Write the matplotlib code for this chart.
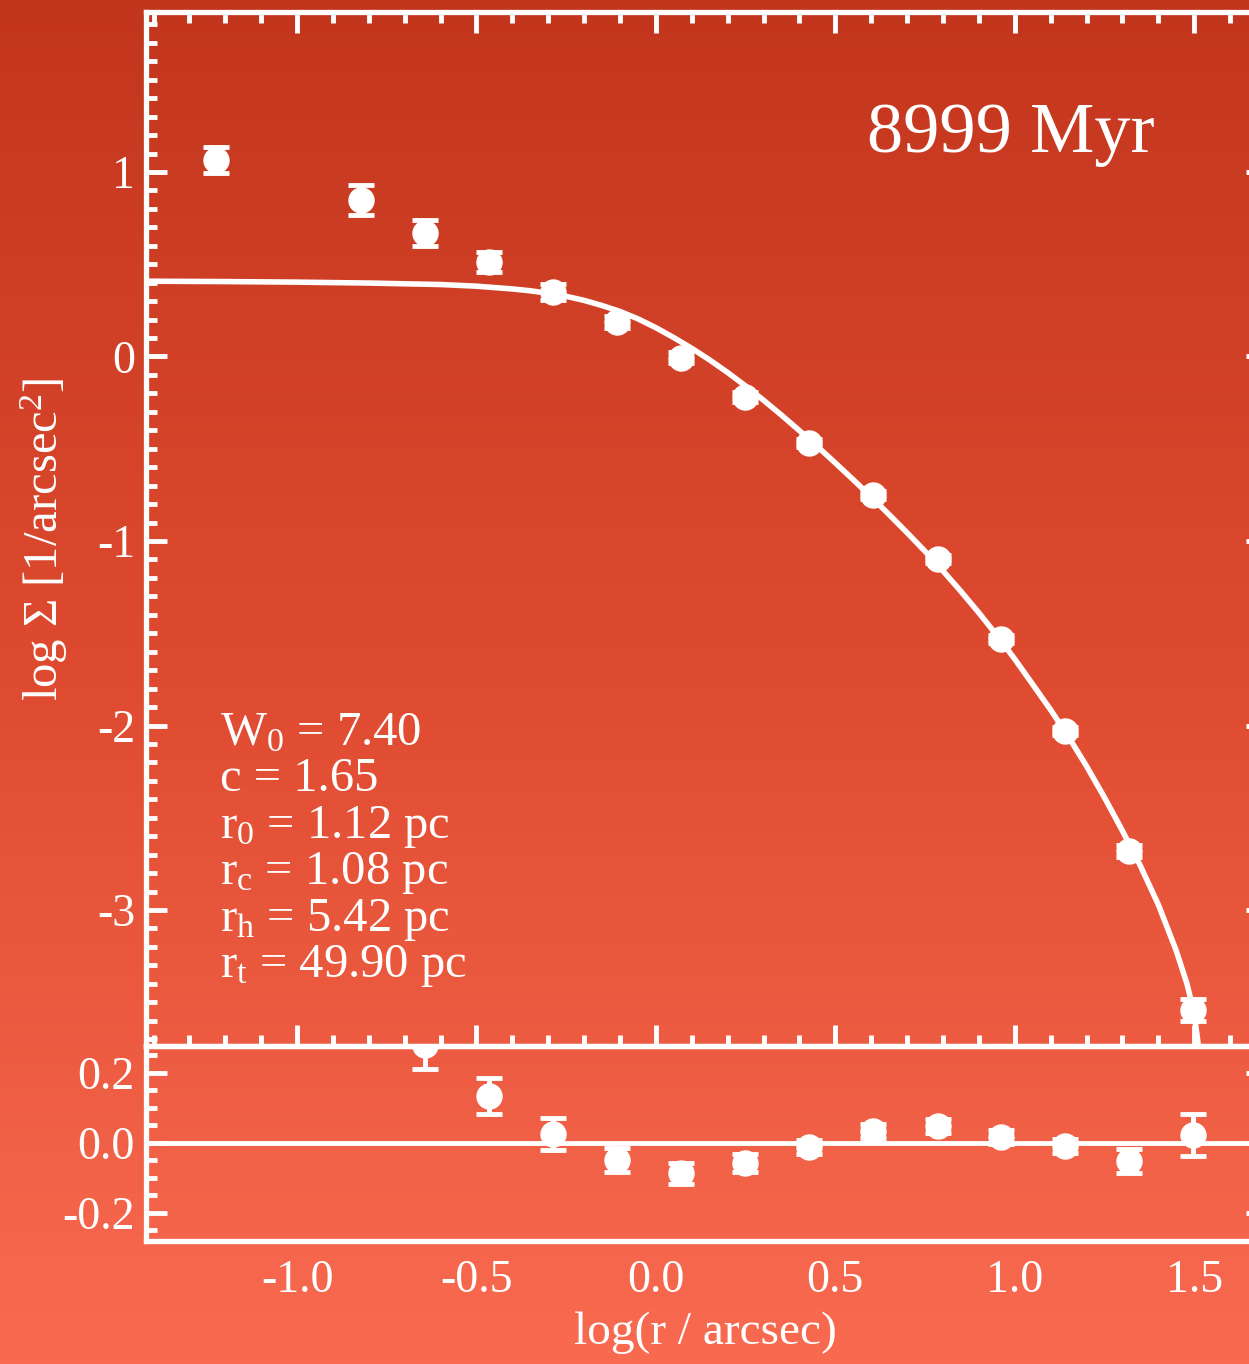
import numpy as np
import matplotlib
matplotlib.use("Agg")
import matplotlib.pyplot as plt
from matplotlib.colors import LinearSegmentedColormap
from matplotlib.ticker import MultipleLocator

# surface density profile (log r in arcsec)
log_r = [-1.226, -0.822, -0.643, -0.465, -0.287, -0.108, 0.071, 0.249,
         0.428, 0.606, 0.785, 0.962, 1.140, 1.319, 1.497]
log_sigma = [1.065, 0.848, 0.669, 0.512, 0.350, 0.187, -0.008, -0.219,
             -0.468, -0.750, -1.097, -1.531, -2.030, -2.680, -3.542]
sigma_err = [0.073, 0.080, 0.068, 0.052, 0.045, 0.035, 0.030, 0.025,
             0.020, 0.020, 0.020, 0.020, 0.020, 0.035, 0.060]
residual = [0.66, 0.45, 0.28, 0.134, 0.026, -0.049, -0.086, -0.057,
            -0.011, 0.034, 0.049, 0.017, -0.009, -0.051, 0.023]

# King model fit curve
fit_log_r = [-1.42, -1.2, -1.0, -0.8, -0.6, -0.5, -0.4, -0.35, -0.3, -0.25,
             -0.2, -0.15, -0.1, -0.05, 0.0, 0.05, 0.1, 0.15, 0.2, 0.25,
             0.3, 0.35, 0.4, 0.45, 0.5, 0.55, 0.6, 0.65, 0.7, 0.75, 0.8,
             0.85, 0.9, 0.95, 1.0, 1.05, 1.1, 1.15, 1.2, 1.25, 1.3, 1.35,
             1.4, 1.45, 1.48, 1.5, 1.512]
fit_log_sigma = [0.408, 0.406, 0.403, 0.398, 0.390, 0.381, 0.366, 0.356,
                 0.343, 0.326, 0.304, 0.276, 0.244, 0.204, 0.156, 0.102,
                 0.044, -0.019, -0.087, -0.160, -0.237, -0.318, -0.402,
                 -0.488, -0.577, -0.668, -0.761, -0.857, -0.955, -1.056,
                 -1.162, -1.273, -1.389, -1.511, -1.640, -1.777, -1.915,
                 -2.062, -2.220, -2.390, -2.570, -2.760, -2.970, -3.220,
                 -3.400, -3.560, -3.740]

age_label = "8999 Myr"
fit_params = ["$W_0$ = 7.40", "c = 1.65", "$r_0$ = 1.12 pc",
              "$r_c$ = 1.08 pc", "$r_h$ = 5.42 pc", "$r_t$ = 49.90 pc"]

plt.rcParams['font.family'] = ['Liberation Serif', 'DejaVu Serif']
plt.rcParams['mathtext.fontset'] = 'custom'
plt.rcParams['mathtext.rm'] = 'Liberation Serif'
plt.rcParams['mathtext.it'] = 'Liberation Serif'
plt.rcParams['mathtext.default'] = 'rm'

W = 'white'
fig = plt.figure(figsize=(12.49, 13.64), dpi=100)

# red gradient background
bg = fig.add_axes([0, 0, 1, 1], zorder=0)
cmap = LinearSegmentedColormap.from_list('bg', ['#F96B51', '#DF4B30', '#C2361D'])
bg.imshow(np.linspace(0, 1, 512)[:, None], aspect='auto', cmap=cmap,
          origin='lower', extent=[0, 1, 0, 1])
bg.axis('off')

left, width = 146 / 1249, (1267 - 146) / 1249
ax = fig.add_axes([left, 1 - 1046 / 1364, width, (1046 - 12) / 1364], zorder=1)
axr = fig.add_axes([left, 1 - 1241 / 1364, width, (1241 - 1046) / 1364], zorder=1)

for a in (ax, axr):
    a.set_facecolor('none')
    for s in a.spines.values():
        s.set_color(W)
        s.set_linewidth(3.8)
    a.set_xlim(-1.421, 1.703)
    a.tick_params(which='both', direction='in', colors=W, width=3.5,
                  labelsize=33, top=True, right=True)
    a.tick_params(which='major', length=15)
    a.tick_params(which='minor', length=8)
    a.tick_params(axis='y', pad=8)

# top panel
ax.plot(fit_log_r, fit_log_sigma, color=W, lw=4, solid_capstyle='butt')
ax.errorbar(log_r, log_sigma, yerr=sigma_err, fmt='o', color=W, ms=18,
            capsize=9.5, capthick=3.5, elinewidth=3.5)
ax.set_ylim(-3.737, 1.867)
ax.xaxis.set_major_locator(MultipleLocator(0.5))
ax.xaxis.set_minor_locator(MultipleLocator(0.1))
ax.yaxis.set_major_locator(MultipleLocator(1))
ax.yaxis.set_minor_locator(MultipleLocator(0.1))
ax.tick_params(labelbottom=False)
ax.set_yticks([-3, -2, -1, 0, 1], ['-3', '-2', '-1', '0', '1'])
ax.set_ylabel('log Σ [1/arcsec$^2$]', color=W, fontsize=35)
ax.yaxis.set_label_coords(-0.068, 0.49)

ax.text(0.900, 0.865, age_label, transform=ax.transAxes, ha='right',
        va='baseline', color=W, fontsize=52)
for i, line in enumerate(fit_params):
    ax.text(0.066, 0.2911 - i * 0.0449, line, transform=ax.transAxes,
            ha='left', va='baseline', color=W, fontsize=35)

# residual panel
axr.axhline(0, color=W, lw=3.5)
axr.errorbar(log_r, residual, yerr=sigma_err, fmt='o', color=W, ms=18,
             capsize=9.5, capthick=3.5, elinewidth=3.5)
axr.set_ylim(-0.28, 0.277)
axr.yaxis.set_major_locator(MultipleLocator(0.2))
axr.yaxis.set_minor_locator(MultipleLocator(0.05))
axr.xaxis.set_major_locator(MultipleLocator(0.5))
axr.set_yticks([-0.2, 0.0, 0.2], ['-0.2', '0.0', '0.2'])
axr.set_xticks([-1.0, -0.5, 0.0, 0.5, 1.0, 1.5],
               ['-1.0', '-0.5', '0.0', '0.5', '1.0', '1.5'])
axr.tick_params(axis='x', which='both', length=0, top=False, pad=13)
axr.set_xlabel('log(r / arcsec)', color=W, fontsize=34)
axr.xaxis.set_label_coords(0.499, -0.36)

fig.savefig('out.png', dpi=100)
